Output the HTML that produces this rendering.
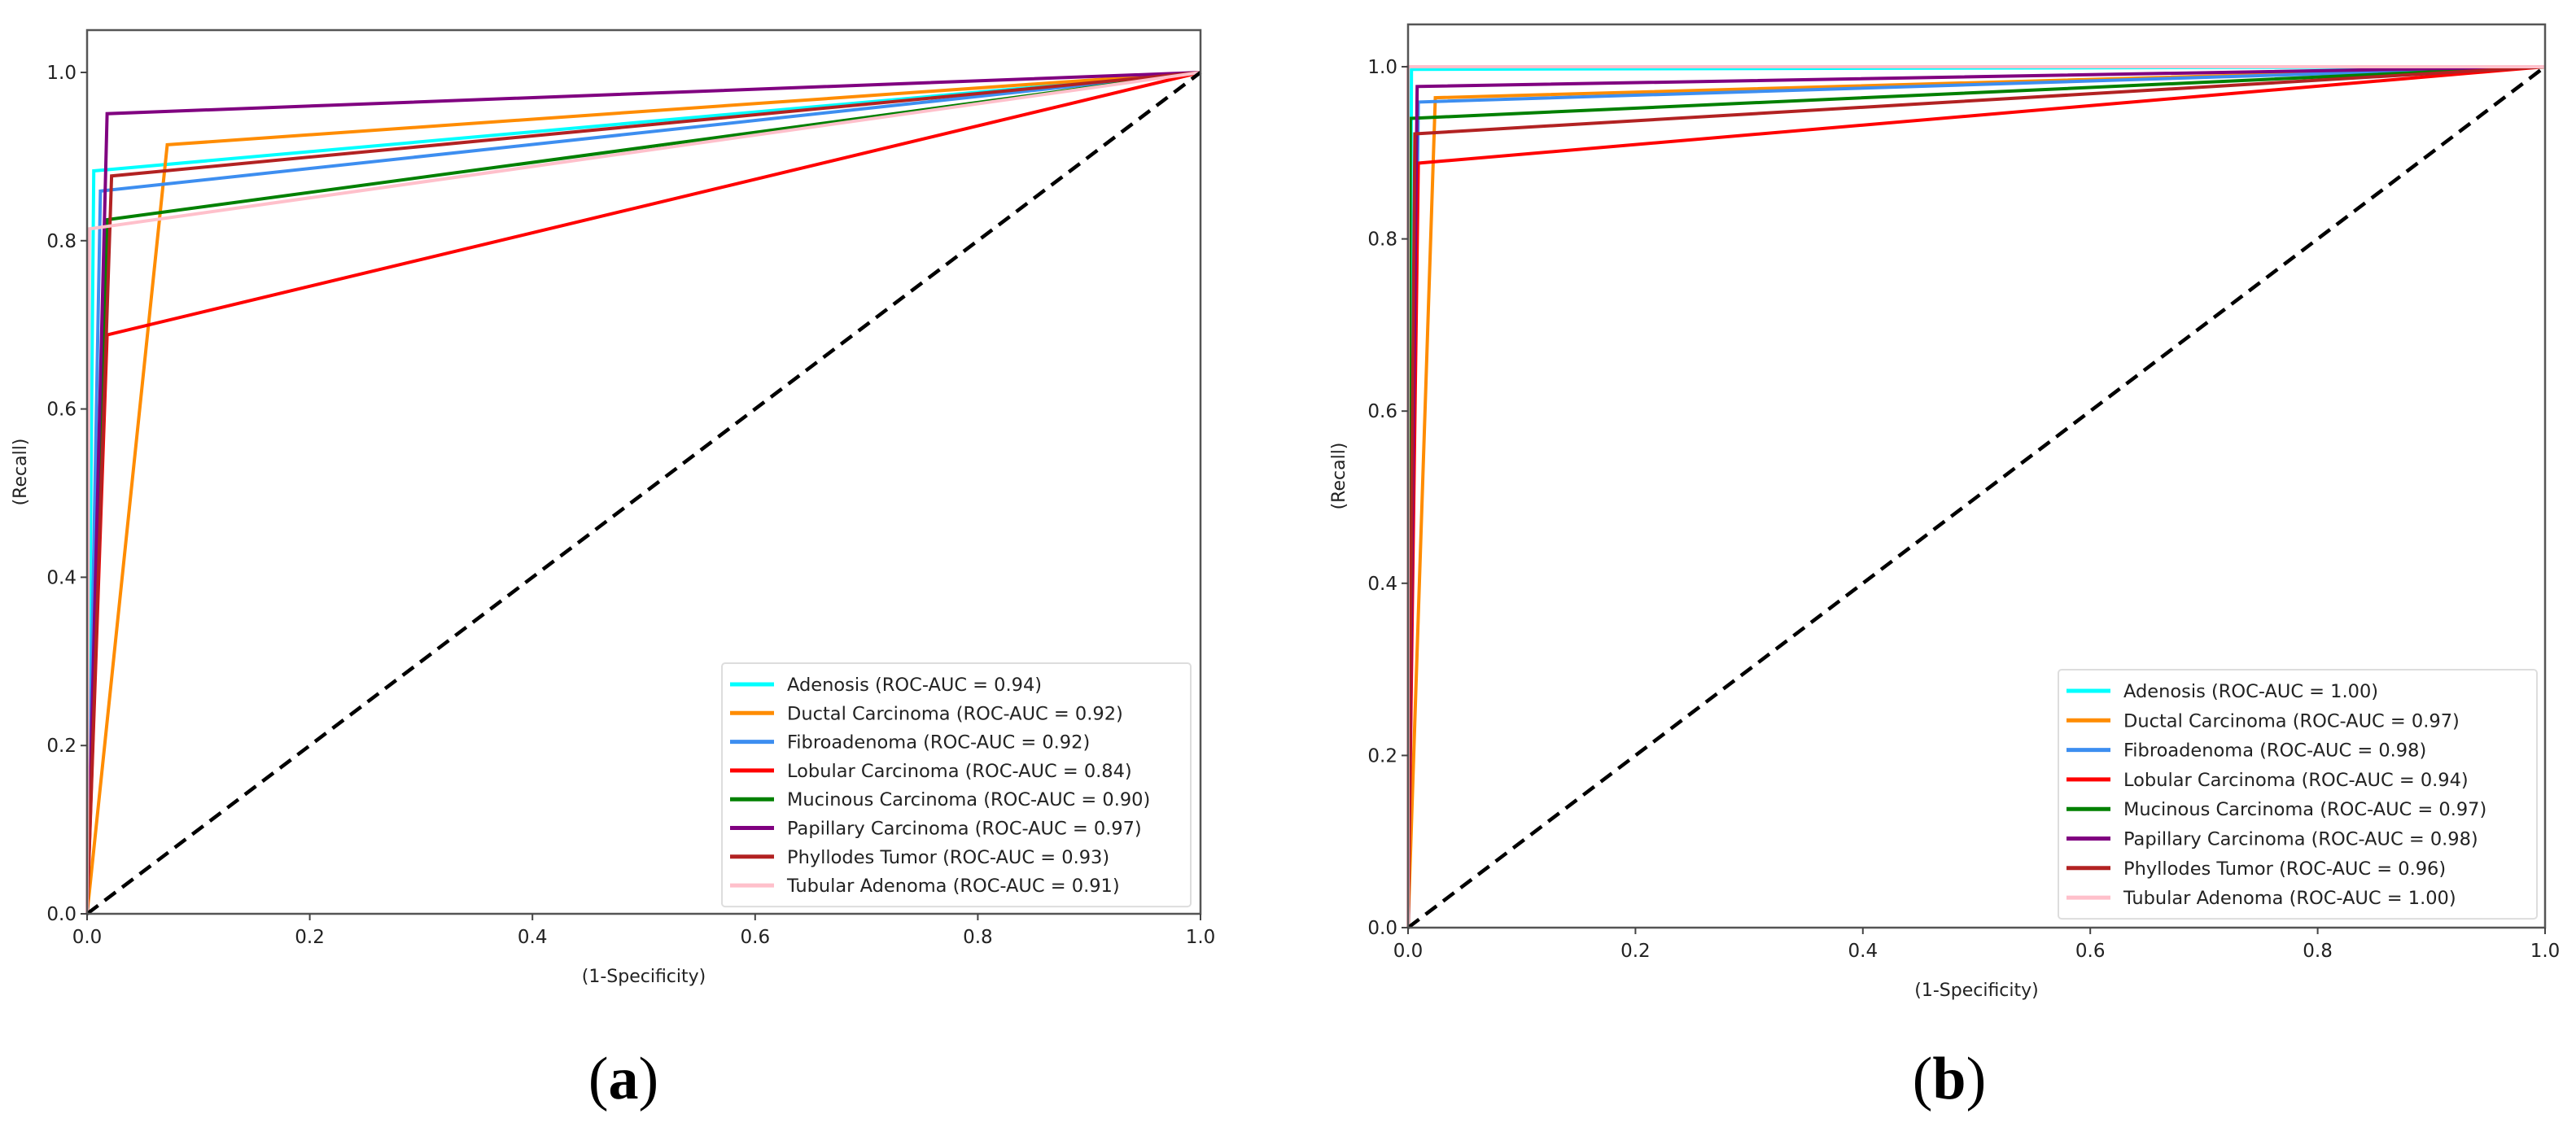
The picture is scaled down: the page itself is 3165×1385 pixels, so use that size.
<!DOCTYPE html>
<html><head><meta charset="utf-8"><style>
html,body{margin:0;padding:0;background:#fff;}
svg{display:block;}
text{font-family:"DejaVu Sans","Liberation Sans",sans-serif;fill:#222;}
</style></head>
<body>
<svg id="fig" width="3165" height="1385" viewBox="0 0 3165 1385" xmlns="http://www.w3.org/2000/svg">
<rect width="3165" height="1385" fill="#fff"/>
<text x="766" y="1350" style="font-family:'Liberation Serif',serif;font-size:74px;fill:#000" text-anchor="middle">(<tspan font-weight="bold">a</tspan>)</text>
<text x="2395" y="1350" style="font-family:'Liberation Serif',serif;font-size:74px;fill:#000" text-anchor="middle">(<tspan font-weight="bold">b</tspan>)</text>
</svg>
<script>
const classNames = ["Adenosis","Ductal Carcinoma","Fibroadenoma","Lobular Carcinoma","Mucinous Carcinoma","Papillary Carcinoma","Phyllodes Tumor","Tubular Adenoma"];
const seriesColors = ["#00ffff","#ff8c00","#3d8ef0","#ff0000","#008000","#800080","#b22222","#ffc0cb"];
const xTicks = [0.0,0.2,0.4,0.6,0.8,1.0];
const yTicks = [0.0,0.2,0.4,0.6,0.8,1.0];
// panel (a): corner FPR and TPR for each class
const fprA = [0.006,0.072,0.012,0.018,0.018,0.018,0.022,0.002];
const tprA = [0.883,0.914,0.859,0.688,0.825,0.951,0.877,0.814];
const aucA = ["0.94","0.92","0.92","0.84","0.90","0.97","0.93","0.91"];
// panel (b)
const fprB = [0.003,0.024,0.009,0.009,0.002,0.008,0.006,0.0];
const tprB = [0.997,0.964,0.959,0.888,0.940,0.977,0.922,1.0];
const aucB = ["1.00","0.97","0.98","0.94","0.97","0.98","0.96","1.00"];

const NS="http://www.w3.org/2000/svg";
const svg=document.getElementById('fig');
function el(tag,attrs,parent){const e=document.createElementNS(NS,tag);for(const k in attrs)e.setAttribute(k,attrs[k]);(parent||svg).appendChild(e);return e;}

function panel(cfg){
  const g=el('g',{});
  
  
  const X=v=>cfg.x0+v*(cfg.x1-cfg.x0);
  const Y=v=>cfg.y0-v*(cfg.y0-cfg.y1);
  // series
  for(let i=0;i<classNames.length;i++){
    const pts=[[0,0],[cfg.fpr[i],cfg.tpr[i]],[1,1]];
    const p=el('polyline',{points:pts.map(q=>X(q[0]).toFixed(1)+','+Y(q[1]).toFixed(1)).join(' '),fill:'none',stroke:seriesColors[i],'stroke-width':4,'stroke-linejoin':'miter'},g);
    
    
  }
  const d=el('line',{x1:X(0),y1:Y(0),x2:X(1),y2:Y(1),stroke:'#000','stroke-width':4.5,'stroke-dasharray':'17 10'},g);
  
  
  // frame
  const f=el('rect',{x:cfg.x0,y:cfg.top,width:cfg.x1-cfg.x0,height:cfg.y0-cfg.top,fill:'none',stroke:'#555','stroke-width':2.5},g);
  
  
  xTicks.forEach(t=>{
    el('line',{x1:X(t),x2:X(t),y1:cfg.y0,y2:cfg.y0+8,stroke:'#444','stroke-width':2},g);
    const tx=el('text',{x:X(t),y:cfg.y0+36,'text-anchor':'middle','font-size':23},g);
    tx.textContent=t.toFixed(1);
    
    
  });
  yTicks.forEach(t=>{
    el('line',{x1:cfg.x0-8,x2:cfg.x0,y1:Y(t),y2:Y(t),stroke:'#444','stroke-width':2},g);
    const tx=el('text',{x:cfg.x0-13,y:Y(t)+8,'text-anchor':'end','font-size':23},g);
    tx.textContent=t.toFixed(1);
    
    
  });
  const xl=el('text',{x:(cfg.x0+cfg.x1)/2,y:cfg.y0+84,'text-anchor':'middle','font-size':22},g);
  xl.textContent='(1-Specificity)';
  
  
  const ylx=cfg.ylabX, yly=(cfg.y0+cfg.top)/2;
  const yl=el('text',{x:ylx,y:yly,'text-anchor':'middle','font-size':22,transform:'rotate(-90 '+ylx+' '+yly+')'},g);
  yl.textContent='(Recall)';
  
  
  // legend
  const lg=el('g',{},g);
  
  
  el('rect',{x:cfg.lx,y:cfg.ly0-26,width:cfg.lw,height:cfg.lrow*7+52,rx:4,fill:'#fff','fill-opacity':0.85,stroke:'#ddd','stroke-width':2},lg);
  for(let i=0;i<classNames.length;i++){
    const yy=cfg.ly0+i*cfg.lrow;
    const ent=el('g',{},lg);
    
    
    el('line',{x1:cfg.lx+10,x2:cfg.lx+64,y1:yy,y2:yy,stroke:seriesColors[i],'stroke-width':5},ent);
    const t=el('text',{x:cfg.lx+80,y:yy+8,'font-size':22.5},ent);
    t.textContent=classNames[i]+' (ROC-AUC = '+cfg.auc[i]+')';
  }
}
panel({name:'panel-a',x0:107,x1:1475,y0:1123,y1:89,top:37,fpr:fprA,tpr:tprA,auc:aucA,ylabX:32,lx:887,ly0:841,lrow:35.3,lw:576});
panel({name:'panel-b',x0:1730,x1:3127,y0:1140,y1:82,top:30,fpr:fprB,tpr:tprB,auc:aucB,ylabX:1652,lx:2529,ly0:849,lrow:36.3,lw:588});
</script>
</body></html>
